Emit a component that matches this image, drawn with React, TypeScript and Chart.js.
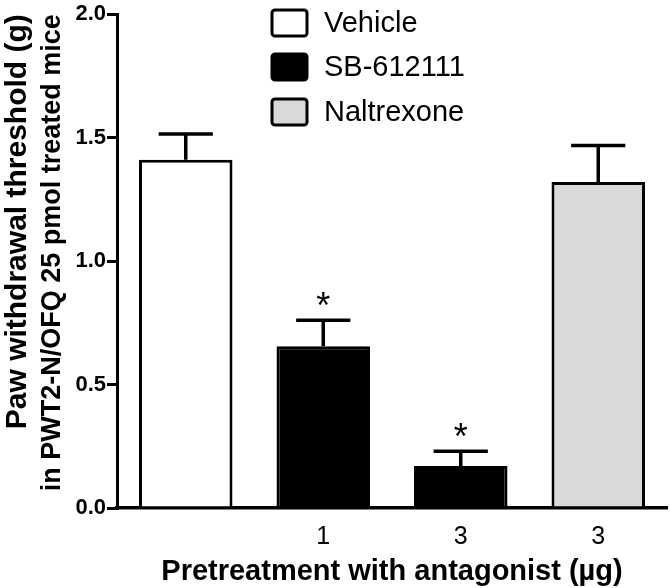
import React, { useEffect, useRef } from 'react';
import { Chart, registerables } from 'chart.js';

Chart.register(...registerables);

// ---- data ----
const categories = ['', '1', '3', '3'];
const barGroups = ['Vehicle', 'SB-612111', 'SB-612111', 'Naltrexone'];
const means = [1.41, 0.655, 0.17, 1.32];
const sems = [0.105, 0.105, 0.06, 0.148];
const significant = [false, true, true, false];
const legendLabels = ['Vehicle', 'SB-612111', 'Naltrexone'];
const legendFills = ['#ffffff', '#000000', '#d9d9d9'];
const yMin = 0;
const yMax = 2.0;
const yStep = 0.5;
const yTitleLine1 = 'Paw withdrawal threshold (g)';
const yTitleLine2 = 'in PWT2-N/OFQ 25 pmol treated mice';
const xTitle = 'Pretreatment with antagonist (\u00b5g)';

const FONT = "'Liberation Sans', Arial, Helvetica, sans-serif";

const fillFor = (g: string) => legendFills[legendLabels.indexOf(g)];

const errorBarPlugin = {
  id: 'errorBars',
  afterDatasetsDraw(chart: any) {
    const { ctx } = chart;
    const meta = chart.getDatasetMeta(0);
    const yScale = chart.scales.y;
    ctx.save();
    ctx.strokeStyle = '#000';
    ctx.lineWidth = 3.5;
    ctx.lineCap = 'butt';
    meta.data.forEach((bar: any, i: number) => {
      const x = bar.x;
      const yTop = yScale.getPixelForValue(means[i] + sems[i]);
      const yBar = yScale.getPixelForValue(means[i]);
      const half = bar.width * 0.29;
      ctx.beginPath();
      ctx.moveTo(x, yBar);
      ctx.lineTo(x, yTop);
      ctx.moveTo(x - half, yTop);
      ctx.lineTo(x + half, yTop);
      ctx.stroke();
      if (significant[i]) {
        ctx.fillStyle = '#000';
        ctx.font = `36px ${FONT}`;
        ctx.textAlign = 'center';
        ctx.textBaseline = 'alphabetic';
        const m = ctx.measureText('*');
        const centerY = yTop - 21;
        const baseY = centerY + (m.actualBoundingBoxAscent - m.actualBoundingBoxDescent) / 2;
        ctx.fillText('*', x, baseY);
      }
    });
    ctx.restore();
  },
};

const legendPlugin = {
  id: 'customLegend',
  afterDraw(chart: any) {
    const { ctx } = chart;
    ctx.save();
    const boxX = 272;
    const boxW = 35;
    const boxH = 26;
    const rowY = [23, 67, 112];
    legendLabels.forEach((label, i) => {
      const cy = rowY[i];
      ctx.beginPath();
      if (ctx.roundRect) {
        ctx.roundRect(boxX, cy - boxH / 2, boxW, boxH, 3);
      } else {
        ctx.rect(boxX, cy - boxH / 2, boxW, boxH);
      }
      ctx.fillStyle = legendFills[i];
      ctx.fill();
      ctx.lineWidth = 3;
      ctx.strokeStyle = '#000';
      ctx.stroke();
      ctx.fillStyle = '#000';
      ctx.font = `29px ${FONT}`;
      ctx.textAlign = 'left';
      ctx.textBaseline = 'middle';
      ctx.fillText(label, 324, cy + 1);
    });
    ctx.restore();
  },
};

export default function App() {
  const canvasRef = useRef<HTMLCanvasElement | null>(null);

  useEffect(() => {
    if (!canvasRef.current) return;
    Chart.defaults.font.family = FONT;
    const chart = new Chart(canvasRef.current, {
      type: 'bar',
      data: {
        labels: categories,
        datasets: [
          {
            label: 'Paw withdrawal threshold',
            data: means,
            backgroundColor: barGroups.map(fillFor),
            borderColor: '#000',
            borderWidth: 3,
            categoryPercentage: 1,
            barPercentage: 0.68,
          },
        ],
      },
      options: {
        animation: false,
        responsive: true,
        maintainAspectRatio: false,
        devicePixelRatio: 1,
        layout: { padding: { top: 12, right: 3, left: 0, bottom: 0 } },
        plugins: {
          legend: { display: false },
          tooltip: { enabled: false },
        },
        scales: {
          x: {
            grid: { display: true, drawOnChartArea: false, drawTicks: false, color: 'rgba(0,0,0,0)' },
            border: { display: true, color: '#000', width: 3.5 },
            ticks: { color: '#000', font: { size: 25, family: FONT }, padding: 14 },
            title: {
              display: true,
              text: xTitle,
              color: '#000',
              font: { size: 29, weight: 'bold', family: FONT, lineHeight: 1.0 },
              padding: { top: 0, bottom: 1.5 },
            },
            afterFit: (s: any) => {
              s.height = 80;
            },
          },
          y: {
            min: yMin,
            max: yMax,
            ticks: {
              stepSize: yStep,
              color: '#000',
              font: { size: 22, weight: 'bold', family: FONT },
              padding: 1,
              callback: (v: any) => Number(v).toFixed(1),
            },
            grid: { drawOnChartArea: false, color: '#000', lineWidth: 3, tickLength: 10 },
            border: { display: true, color: '#000', width: 3 },
            title: {
              display: true,
              text: yTitleLine2,
              align: 'end',
              color: '#000',
              font: { size: 27, weight: 'bold', family: FONT, lineHeight: 1.2 },
              padding: { top: 0, bottom: 0 },
            },
            afterFit: (s: any) => {
              s.width = 81;
            },
          },
          yOuter: {
            type: 'linear',
            axis: 'y',
            position: 'left',
            weight: 1,
            grid: { display: false },
            border: { display: false },
            ticks: { display: false },
            title: {
              display: true,
              text: yTitleLine1,
              align: 'end',
              color: '#000',
              font: { size: 30, weight: 'bold', family: FONT, lineHeight: 1.2 },
              padding: { top: 0, bottom: 0 },
            },
            afterFit: (s: any) => {
              s.width = 36;
            },
          },
        },
      },
      plugins: [errorBarPlugin, legendPlugin],
    } as any);
    return () => chart.destroy();
  }, []);

  return (
    <div style={{ position: 'absolute', left: 0, top: 0, width: 670, height: 588, background: '#fff' }}>
      <canvas ref={canvasRef} />
    </div>
  );
}
